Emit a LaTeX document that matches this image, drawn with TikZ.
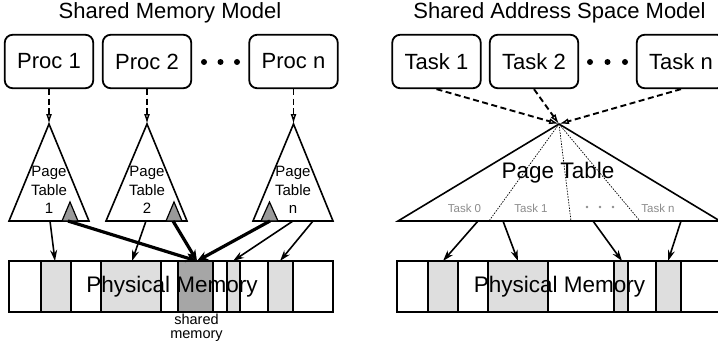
\documentclass[tikz,border=0pt]{standalone}
\usepackage{fontspec}
\setmainfont{Liberation Sans}
\usetikzlibrary{arrows.meta}
\definecolor{lgray}{HTML}{DEDEDE}
\definecolor{dgray}{HTML}{A6A6A6}
\definecolor{tgray}{HTML}{999999}
\definecolor{lbl}{HTML}{8C8C8C}
\tikzset{
  procbox/.style={draw, line width=1.8pt, rounded corners=8pt, minimum width=88.5pt, minimum height=53.5pt, inner sep=0pt, font=\fontsize{22}{26}\selectfont},
  titletxt/.style={inner sep=0pt, font=\fontsize{22}{26}\selectfont},
  dasharrow/.style={line width=1.9pt, dash pattern=on 6pt off 3.5pt, -{Latex[open,length=10pt,width=6pt,line width=1.4pt]}},
  thinarrow/.style={line width=1.6pt, -{Stealth[length=11pt,width=7pt]}},
  thickarrow/.style={line width=3.2pt, -{Stealth[length=11pt,width=9pt]}},
  ptable/.style={draw, line width=1.6pt, fill=white},
  ptlabel/.style={inner sep=0pt, align=center, font=\fontsize{15}{18.5}\selectfont},
  gtri/.style={draw, line width=1.2pt, fill=tgray},
  cell/.style={draw, line width=1.8pt},
  memtxt/.style={inner sep=0pt, font=\fontsize{22.5}{26}\selectfont},
  tasklbl/.style={inner sep=0pt, text=lbl, font=\fontsize{11.5}{14}\selectfont},
  dotline/.style={line width=0.7pt, dash pattern=on 1.5pt off 1.3pt},
  bigdot/.style={fill=black},
}
\begin{document}
\begin{tikzpicture}[x=1pt,y=-1pt]
\useasboundingbox (0,0) rectangle (718,345);
\clip (0,0) rectangle (718,345);
% ---------------- LEFT: Shared Memory Model ----------------
\node[titletxt] (tL) at (170,13) {Shared Memory Model};
\node[procbox] (p1) at (49,61.5) {Proc 1};
\node[procbox] (p2) at (147,61.5) {Proc 2};
\node[procbox] (pn) at (293.5,61.5) {Proc n};
\fill[bigdot] (204,62) circle (3) (220.5,62) circle (3) (237,62) circle (3);
% page tables
\coordinate (a1) at (49,124);
\coordinate (a2) at (147,124);
\coordinate (an) at (293.5,124);
\draw[ptable] (a1) -- (89,221) -- (9,221) -- cycle;
\draw[ptable] (a2) -- (187,221) -- (106,221) -- cycle;
\draw[ptable] (an) -- (333,221) -- (253,221) -- cycle;
\node[ptlabel] (l1) at (49,190) {Page\\Table\\1};
\node[ptlabel] (l2) at (147,190) {Page\\Table\\2};
\node[ptlabel] (ln) at (293,190) {Page\\Table\\n};
\draw[gtri] (62,221) -- (70,202) -- (78,221) -- cycle;
\draw[gtri] (166,221) -- (174,202) -- (182,221) -- cycle;
\draw[gtri] (261,221) -- (269.5,202) -- (278,221) -- cycle;
\draw[dasharrow] (p1.south) -- (a1);
\draw[dasharrow] (p2.south) -- (a2);
\draw[dasharrow] (pn.south) -- (an);
% physical memory
\draw[cell] (9,261) rectangle (333,312);
\draw[cell, fill=lgray] (41,261) rectangle (71,312);
\draw[cell, fill=lgray] (101,261) rectangle (161,312);
\draw[cell, fill=dgray] (178,261) rectangle (213,312);
\draw[cell, fill=lgray] (227,261) rectangle (240,312);
\draw[cell, fill=lgray] (268,261) rectangle (293,312);
\node[memtxt] (mL) at (172,287) {Physical Memory};
\node[inner sep=0pt, align=center, font=\fontsize{14.5}{14}\selectfont] (sh) at (196.5,328) {shared\\memory};
% targets
\coordinate (m1) at (55,261);
\coordinate (m2) at (132,261);
\coordinate (ms) at (197,261);
\coordinate (m3) at (233,261);
\coordinate (m4) at (280,261);
\coordinate (b1) at (50,221);
\coordinate (g1) at (68,221);
\coordinate (b2) at (146,221);
\coordinate (g2) at (173,221);
\coordinate (gn) at (270,221);
\coordinate (bn1) at (293,221);
\coordinate (bn2) at (313,221);
\draw[thinarrow] (b1) -- (m1);
\draw[thinarrow] (b2) -- (m2);
\draw[thinarrow] (bn1) -- (m3);
\draw[thinarrow] (bn2) -- (m4);
\draw[thickarrow] (g1) -- (ms);
\draw[thickarrow] (g2) -- (ms);
\draw[thickarrow] (gn) -- (ms);
% ---------------- RIGHT: Shared Address Space Model ----------------
\node[titletxt] (tR) at (559.5,13) {Shared Address Space Model};
\node[procbox] (t1) at (436.5,61.5) {Task 1};
\node[procbox] (t2) at (534,61.5) {Task 2};
\node[procbox] (tn) at (681,61.5) {Task n};
\fill[bigdot] (590,62) circle (3) (607.5,62) circle (3) (625,62) circle (3);
\coordinate (ap) at (559,124);
\draw[ptable] (ap) -- (720,221) -- (398,221) -- cycle;
\draw[dotline] (ap) -- (489,221);
\draw[dotline] (ap) -- (571,221);
\draw[dotline] (ap) -- (640,221);
\node[memtxt] (ptR) at (558,173) {Page Table};
\node[tasklbl] (k0) at (464.5,208) {Task 0};
\node[tasklbl] (k1) at (531,208) {Task 1};
\fill[lbl] (587,207) circle (1.3) (600,207) circle (1.3) (613,207) circle (1.3);
\node[tasklbl] (kn) at (658,208) {Task n};
\draw[dasharrow] (t1.south) -- (ap);
\draw[dasharrow] (t2.south) -- (ap);
\draw[dasharrow] (tn.south) -- (ap);
% physical memory right
\draw[cell] (397,261) rectangle (722,312);
\draw[cell, fill=lgray] (428,261) rectangle (458,312);
\draw[cell, fill=lgray] (488,261) rectangle (548,312);
\draw[cell, fill=lgray] (614,261) rectangle (628,312);
\draw[cell, fill=lgray] (656,261) rectangle (681,312);
\node[memtxt] (mR) at (559.5,287) {Physical Memory};
\coordinate (rb1) at (478,221);
\coordinate (rb2) at (503,221);
\coordinate (rb3) at (593,221);
\coordinate (rb4) at (681,221);
\coordinate (rm1) at (443,261);
\coordinate (rm2) at (518,261);
\coordinate (rm3) at (622,261);
\coordinate (rm4) at (668,261);
\draw[thinarrow] (rb1) -- (rm1);
\draw[thinarrow] (rb2) -- (rm2);
\draw[thinarrow] (rb3) -- (rm3);
\draw[thinarrow] (rb4) -- (rm4);
\end{tikzpicture}
\end{document}
